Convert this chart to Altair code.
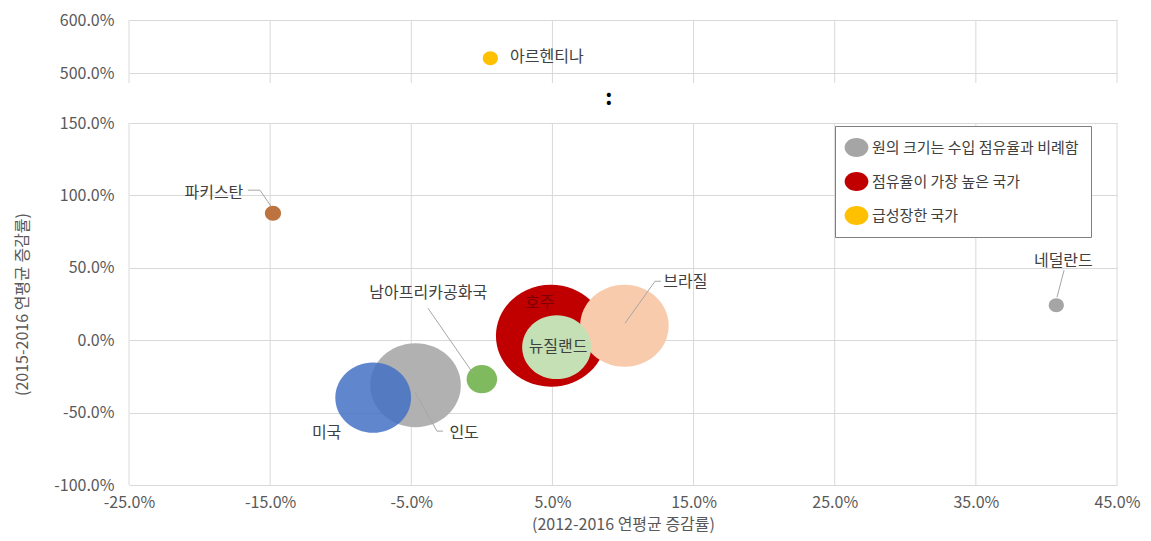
import altair as alt
import pandas as pd

FONT = "Noto Sans CJK KR"
GRID = "#D9D9D9"
TXT = "#404040"
AXC = "#595959"

# ---------------- data ----------------
# bubbles (drawing order); last one sits in the upper (broken-axis) panel
countries = ["인도", "미국", "남아프리카공화국", "호주", "브라질", "뉴질랜드", "파키스탄", "네덜란드", "아르헨티나"]
growth_2012_2016 = [-4.7, -7.7, 0.0, 4.9, 10.1, 5.3, -14.8, 40.7, 0.6]
growth_2015_2016 = [-31.1, -39.7, -26.9, 3.1, 10.0, -4.8, 87.7, 24.2, 528.0]
import_share = [17.6, 12.3, 2.0, 26.0, 16.8, 10.2, 0.56, 0.49, 0.49]

# axis ticks
x_ticks = [-25, -15, -5, 5, 15, 25, 35, 45]
y_ticks_low = [-100, -50, 0, 50, 100, 150]
y_ticks_high = [500, 600]

# data labels (anchor positions in data units)
label_text = ["파키스탄", "네덜란드", "브라질", "남아프리카공화국", "미국", "인도", "호주", "뉴질랜드", "아르헨티나"]
label_x = [-16.9, 41.2, 12.85, -3.8, -11.0, -2.3, 4.1, 5.4, 2.0]
label_y = [102.0, 54.6, 40.5, 32.5, -64.2, -64.2, 25.6, -4.8, 530.0]
label_align = ["right", "center", "left", "center", "center", "left", "dark", "center", "left"]

# leader lines
leader_name = ["파키스탄"] * 3 + ["네덜란드"] * 2 + ["브라질"] * 3 + ["남아프리카공화국"] * 2 + ["인도"] * 3
leader_x = [-16.57, -15.72, -14.94, 41.25, 40.75, 12.69, 12.27, 10.14, -3.82, -0.63, -2.75, -3.18, -4.74]
leader_y = [103.6, 103.6, 92.5, 48.3, 29.7, 40.7, 40.7, 11.7, 22.1, -22.8, -62.8, -62.8, -35.9]

# axis-break mark
break_x = [9.0]
break_y = [325.0]

# legend
legend_labels = ["원의 크기는 수입 점유율과 비례함", "점유율이 가장 높은 국가", "급성장한 국가"]

# ---------------- styles ----------------
bubble_colors = ["#B1B1B1", "#4472C4", "#7FBA5E", "#C00000", "#F8CBAD", "#C5E0B4", "#BC733F", "#A5A5A5", "#FFC000"]
bubble_opacity = [1, 0.85, 1, 1, 1, 1, 1, 1, 1]
legend_colors = ["#A5A5A5", "#C00000", "#FFC000"]

ELLIPSE = "M -1.08 0 A 1.08 1 0 1 0 1.08 0 A 1.08 1 0 1 0 -1.08 0 Z"
LEG_ELLIPSE = "M -1.25 0 A 1.25 1 0 1 0 1.25 0 A 1.25 1 0 1 0 -1.25 0 Z"

W, H = 988, 465
# broken y axis: piecewise-linear scale (lower panel 362px, gap 50px, upper panel 53px)
Y_DOMAIN = [-100, 150, 500, 600]
Y_RANGE = [465, 103, 53, 0]
GAP_STUB = 430  # value inside the gap used for the short tick stubs under the upper panel

bub = pd.DataFrame({
    "country": countries, "x": growth_2012_2016, "y": growth_2015_2016,
    "share": import_share, "fill": bubble_colors, "op": bubble_opacity,
    "ord": list(range(len(countries))),
})
lab = pd.DataFrame({"t": label_text, "x": label_x, "y": label_y, "a": label_align})
lead = pd.DataFrame({"name": leader_name, "x": leader_x, "y": leader_y,
                     "i": list(range(len(leader_x)))})
vgrid = pd.DataFrame({
    "x": x_ticks + x_ticks,
    "y": [y_ticks_low[0]] * len(x_ticks) + [GAP_STUB] * len(x_ticks),
    "y2": [y_ticks_low[-1]] * len(x_ticks) + [y_ticks_high[-1]] * len(x_ticks),
})
brk = pd.DataFrame({"t": [":"], "x": break_x, "y": break_y})
leg = pd.DataFrame({"g": legend_labels, "x": [-100] * 3, "y": [0] * 3})

pct = "(datum.value < 0 ? '-' : '') + format(abs(datum.value), '.1f') + '%'"
size_scale = alt.Scale(domain=[0, 26], range=[0, 10404])

X = alt.X("x:Q", scale=alt.Scale(domain=[-25, 45], nice=False, zero=False),
          axis=alt.Axis(values=x_ticks, labelExpr=pct, title="(2012-2016 연평균 증감률)",
                        grid=False, domain=False, ticks=False, labelFlush=False,
                        labelPadding=9, titlePadding=6, labelFontSize=16,
                        labelColor=AXC, titleColor=AXC, titleFontSize=16,
                        titleFontWeight="normal", labelFont=FONT, titleFont=FONT))
Y = alt.Y("y:Q", scale=alt.Scale(domain=Y_DOMAIN, range=Y_RANGE, nice=False, zero=False),
          axis=alt.Axis(values=y_ticks_low + y_ticks_high, labelExpr=pct,
                        title="(2015-2016 연평균 증감률)", grid=True, gridColor=GRID,
                        domain=False, ticks=False, labelFlush=False, labelPadding=15,
                        labelFontSize=16, labelColor=AXC, titleColor=AXC,
                        titleFontSize=16, titleFontWeight="normal",
                        titleX=-107, titleY=284, titleAngle=270, titleAlign="center",
                        titleBaseline="middle", labelFont=FONT, titleFont=FONT))

grid_v = alt.Chart(vgrid).mark_rule(color=GRID, strokeWidth=1).encode(
    x=X, y=Y, y2="y2:Q")

bubbles = alt.Chart(bub).mark_point(shape=ELLIPSE, filled=True, strokeWidth=0).encode(
    x=X, y=Y,
    size=alt.Size("share:Q", scale=size_scale, legend=None),
    fill=alt.Fill("fill:N", scale=None),
    opacity=alt.Opacity("op:Q", scale=None),
    order=alt.Order("ord:Q"),
)

leaders = alt.Chart(lead).mark_line(color="#A6A6A6", strokeWidth=1).encode(
    x=X, y=Y, detail="name:N", order="i:Q")


def text_layer(cond, align, color):
    return alt.Chart(lab).transform_filter(cond).mark_text(
        align=align, baseline="middle", font=FONT, fontSize=16, color=color
    ).encode(x=X, y=Y, text="t:N")


labels = alt.layer(
    text_layer("datum.a == 'right'", "right", TXT),
    text_layer("datum.a == 'left'", "left", TXT),
    text_layer("datum.a == 'center'", "center", TXT),
    text_layer("datum.a == 'dark'", "center", "#7F0000"),
)

brk_text = alt.Chart(brk).mark_text(align="center", baseline="middle", font=FONT,
                                    fontSize=22, fontWeight="bold", color="black").encode(
    x=X, y=Y, text="t:N")

legend_layer = alt.Chart(leg).mark_point(filled=True, clip=True, opacity=1).encode(
    x=X, y=Y,
    color=alt.Color("g:N", scale=alt.Scale(domain=legend_labels, range=legend_colors),
                    legend=alt.Legend(
                        title=None, orient="none", legendX=706, legendY=106,
                        direction="vertical", symbolType=LEG_ELLIPSE, symbolSize=361,
                        symbolStrokeWidth=0, symbolOpacity=1,
                        labelFont=FONT, labelFontSize=15, labelColor=TXT,
                        labelOffset=6, rowPadding=15, padding=12,
                        strokeColor="#7F7F7F", fillColor="white", labelLimit=400,
                    )),
)

chart = alt.layer(grid_v, bubbles, leaders, labels, brk_text, legend_layer).properties(
    width=W, height=H, background="white",
    padding={"left": 6, "top": 4, "right": 2, "bottom": 1},
).configure_view(stroke=None, strokeWidth=0)

chart.save("out.html", embed_options={"renderer": "svg", "actions": False})
